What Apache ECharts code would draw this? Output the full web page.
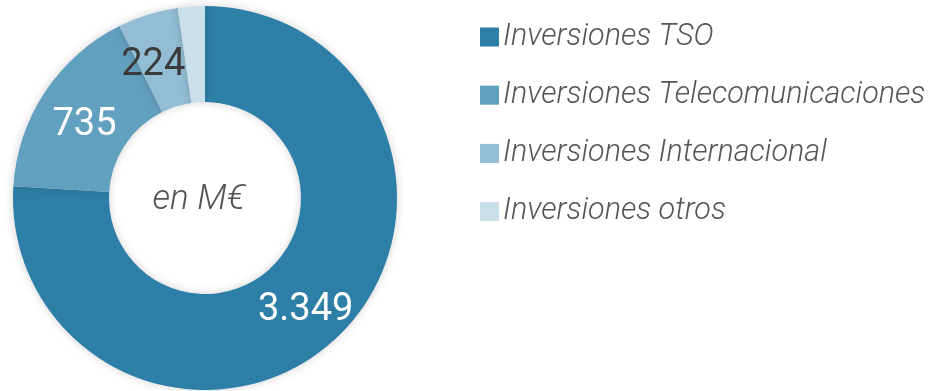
<!DOCTYPE html>
<html>
<head>
<meta charset="utf-8">
<script src="https://cdn.jsdelivr.net/npm/echarts@6/dist/echarts.min.js"></script>
<style>
  html, body { margin: 0; padding: 0; background: #ffffff; }
  #chart { width: 933px; height: 391px; }
</style>
</head>
<body>
<div id="chart"></div>
<script>
// Investment breakdown (million euros)
const categories = [
  'Inversiones TSO',
  'Inversiones Telecomunicaciones',
  'Inversiones Internacional',
  'Inversiones otros'
];
const values = [3349, 735, 224, 100];
const valueLabels = ['3.349', '735', '224', ''];
const colors = ['#2e7fa8', '#62a0c0', '#92bdd4', '#c9dfea'];
const labelColors = ['#ffffff', '#ffffff', '#3a3a3a', '#3a3a3a'];
// small nudges so the value labels sit comfortably inside their slices
const labelOffsets = [[0, 5], [2, 9], [-8, 8], [0, 0]];

const chart = echarts.init(document.getElementById('chart'), null, { renderer: 'canvas' });

const data = categories.map((name, i) => ({
  name,
  value: values[i],
  itemStyle: { color: colors[i] },
  label: {
    show: valueLabels[i] !== '',
    formatter: valueLabels[i],
    color: labelColors[i],
    offset: labelOffsets[i]
  }
}));

chart.setOption({
  animation: false,
  legend: {
    orient: 'vertical',
    left: 475,
    top: 17,
    itemWidth: 19,
    itemHeight: 19,
    itemGap: 28.2,
    icon: 'rect',
    textStyle: {
      fontFamily: 'Roboto',
      fontStyle: 'italic',
      fontWeight: 300,
      fontSize: 30.5,
      color: '#555555',
      padding: [0, 0, 0, -1]
    },
    data: categories
  },
  graphic: [{
    type: 'text',
    x: 199,
    y: 200,
    style: {
      text: 'en M€',
      align: 'center',
      verticalAlign: 'middle',
      fontFamily: 'Roboto',
      fontStyle: 'italic',
      fontWeight: 300,
      fontSize: 35,
      fill: '#555555'
    }
  }],
  series: [{
    type: 'pie',
    center: [205, 198],
    radius: [96, 192],
    startAngle: 90,
    clockwise: true,
    silent: true,
    label: {
      position: 'inside',
      fontFamily: 'Roboto',
      fontSize: 38
    },
    labelLine: { show: false },
    itemStyle: {
      shadowBlur: 10,
      shadowColor: 'rgba(0,0,0,0.18)'
    },
    data
  }]
});
</script>
</body>
</html>
